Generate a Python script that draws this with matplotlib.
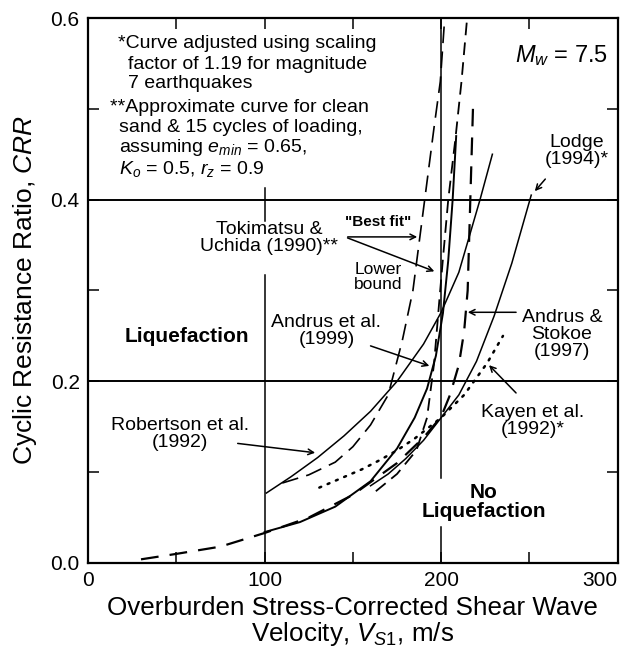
import matplotlib
matplotlib.use("Agg")
import matplotlib.pyplot as plt

plt.rcParams['font.family'] = ['Liberation Sans', 'DejaVu Sans']
plt.rcParams['mathtext.fontset'] = 'custom'
plt.rcParams['mathtext.rm'] = 'Liberation Sans'
plt.rcParams['mathtext.it'] = 'Liberation Sans:italic'

# ---- curves (Vs1 in m/s, CRR) ----
vs_as97 = [30, 50, 75, 100, 125, 150, 175, 190, 200, 205, 210, 213, 215, 216.5, 218]
crr_as97 = [0.004, 0.010, 0.018, 0.033, 0.050, 0.075, 0.110, 0.138, 0.161, 0.185,
            0.218, 0.255, 0.300, 0.400, 0.500]

vs_a99 = [100, 120, 140, 160, 175, 185, 192, 197, 201, 204, 206.5, 208.5]
crr_a99 = [0.034, 0.045, 0.062, 0.090, 0.126, 0.160, 0.192, 0.228, 0.275, 0.333, 0.400, 0.470]

vs_rob = [101, 115, 130, 145, 160, 175, 190, 200, 210, 222, 229]
crr_rob = [0.077, 0.095, 0.116, 0.140, 0.167, 0.200, 0.241, 0.276, 0.320, 0.400, 0.450]

vs_tu_best = [110, 125, 140, 150, 160, 170, 178, 184, 188, 192, 196, 199.5, 202]
crr_tu_best = [0.088, 0.097, 0.111, 0.128, 0.152, 0.185, 0.245, 0.300, 0.360, 0.420,
               0.480, 0.530, 0.600]

vs_tu_low = [163, 175, 186, 192, 196, 199, 201, 204, 208, 211.5, 214.7]
crr_tu_low = [0.079, 0.098, 0.124, 0.160, 0.220, 0.290, 0.335, 0.400, 0.466, 0.530, 0.600]

vs_kay = [131, 143, 155, 165, 175, 185, 200, 213, 226, 235]
crr_kay = [0.083, 0.093, 0.103, 0.113, 0.124, 0.137, 0.160, 0.185, 0.220, 0.250]

vs_lod = [160, 170, 180, 190, 200, 210, 220, 230, 240, 251]
crr_lod = [0.085, 0.098, 0.115, 0.135, 0.160, 0.185, 0.222, 0.272, 0.330, 0.405]

fig = plt.figure(figsize=(6.31, 6.55), dpi=100)
ax = fig.add_axes([0.1395, 0.1405, 0.8395, 0.832])

# reference grid lines
ax.axhline(0.2, color='black', lw=1.4)
ax.axhline(0.4, color='black', lw=1.4)
ax.plot([100, 100], [0, 0.317], color='black', lw=1.1)
ax.plot([100, 100], [0.376, 0.413], color='black', lw=1.1)
ax.plot([200, 200], [0, 0.04], color='black', lw=1.1)
ax.plot([200, 200], [0.094, 0.6], color='black', lw=1.1)

# curves
ax.plot(vs_as97, crr_as97, color='black', lw=1.6, dashes=(8, 5))
ax.plot(vs_a99, crr_a99, color='black', lw=1.4)
ax.plot(vs_rob, crr_rob, color='black', lw=1.1)
ax.plot(vs_tu_best, crr_tu_best, color='black', lw=1.2, dashes=(10, 5))
ax.plot(vs_tu_low, crr_tu_low, color='black', lw=1.3, dashes=(7, 4))
ax.plot(vs_kay, crr_kay, color='black', lw=1.8, dashes=(0.8, 2.8), dash_capstyle='round')
ax.plot(vs_lod, crr_lod, color='black', lw=1.1)

ax.set_xlim(0, 300)
ax.set_ylim(0, 0.6)
ax.set_xticks([0, 100, 200, 300])
ax.set_yticks([0.0, 0.2, 0.4, 0.6])
ax.set_yticklabels(['0.0', '0.2', '0.4', '0.6'])
ax.set_xticks([50, 150, 250], minor=True)
ax.set_yticks([0.1, 0.3, 0.5], minor=True)
ax.tick_params(which='both', direction='in', top=True, right=True, width=1.1)
ax.tick_params(which='major', length=8, labelsize=15, pad=6)
ax.tick_params(which='minor', length=8)
ax.get_xticklabels()[-1].set_horizontalalignment('right')
for s in ax.spines.values():
    s.set_linewidth(1.6)

ax.set_ylabel('Cyclic Resistance Ratio, $\\it{CRR}$', fontsize=19, labelpad=8)
ax.set_xlabel('Overburden Stress-Corrected Shear Wave\nVelocity, $V_{S1}$, m/s',
              fontsize=18.7, labelpad=4, linespacing=1.0)

fs = 14
# footnotes
ax.text(17, 0.567, '*Curve adjusted using scaling', fontsize=fs)
ax.text(22.6, 0.544, 'factor of 1.19 for magnitude', fontsize=fs)
ax.text(22.6, 0.523, '7 earthquakes', fontsize=fs)
ax.text(12.5, 0.496, '**Approximate curve for clean', fontsize=fs)
ax.text(17.6, 0.474, 'sand & 15 cycles of loading,', fontsize=fs)
ax.text(17.6, 0.452, 'assuming $\\it{e}_{min}$ = 0.65,', fontsize=fs)
ax.text(17.6, 0.428, '$\\it{K}_o$ = 0.5, $\\it{r}_z$ = 0.9', fontsize=fs)

ax.text(294.5, 0.552, '$M_w$ = 7.5', fontsize=17, ha='right')

ax.text(277, 0.454, 'Lodge\n(1994)*', fontsize=fs, ha='center', va='center', linespacing=1.0)
ax.annotate('', xy=(252, 0.407), xytext=(260, 0.425),
            arrowprops=dict(arrowstyle='->', color='black', lw=1.1))

ax.text(102.5, 0.358, 'Tokimatsu &\nUchida (1990)**', fontsize=fs, ha='center', va='center',
        linespacing=1.0)
ax.annotate('', xy=(188, 0.359), xytext=(145.5, 0.359),
            arrowprops=dict(arrowstyle='->', color='black', lw=1.1))
ax.annotate('', xy=(197.6, 0.32), xytext=(145.5, 0.359),
            arrowprops=dict(arrowstyle='->', color='black', lw=1.1))
ax.text(164.5, 0.3755, '"Best fit"', fontsize=11, ha='center', va='center', fontweight='bold')
ax.text(164.2, 0.315, 'Lower\nbound', fontsize=12.5, ha='center', va='center', linespacing=1.0)

ax.text(135, 0.255, 'Andrus et al.\n(1999)', fontsize=fs, ha='center', va='center', linespacing=1.0)
ax.annotate('', xy=(194.8, 0.216), xytext=(158.5, 0.24),
            arrowprops=dict(arrowstyle='->', color='black', lw=1.1))

ax.text(56, 0.249, 'Liquefaction', fontsize=15, ha='center', va='center', fontweight='bold')

ax.text(52, 0.142, 'Robertson et al.\n(1992)', fontsize=fs, ha='center', va='center', linespacing=1.0)
ax.annotate('', xy=(130.2, 0.121), xytext=(83.2, 0.132),
            arrowprops=dict(arrowstyle='->', color='black', lw=1.1))

ax.text(268.4, 0.251, 'Andrus &\nStokoe\n(1997)', fontsize=fs, ha='center', va='center', linespacing=1.0)
ax.annotate('', xy=(213.5, 0.276), xytext=(244, 0.276),
            arrowprops=dict(arrowstyle='->', color='black', lw=1.1))

ax.text(252, 0.156, 'Kayen et al.\n(1992)*', fontsize=fs, ha='center', va='center', linespacing=1.0)
ax.annotate('', xy=(226, 0.22), xytext=(243.5, 0.185),
            arrowprops=dict(arrowstyle='->', color='black', lw=1.1))

ax.text(224, 0.067, 'No\nLiquefaction', fontsize=15, ha='center', va='center', fontweight='bold',
        linespacing=1.0)

fig.savefig('out.png', dpi=100)
